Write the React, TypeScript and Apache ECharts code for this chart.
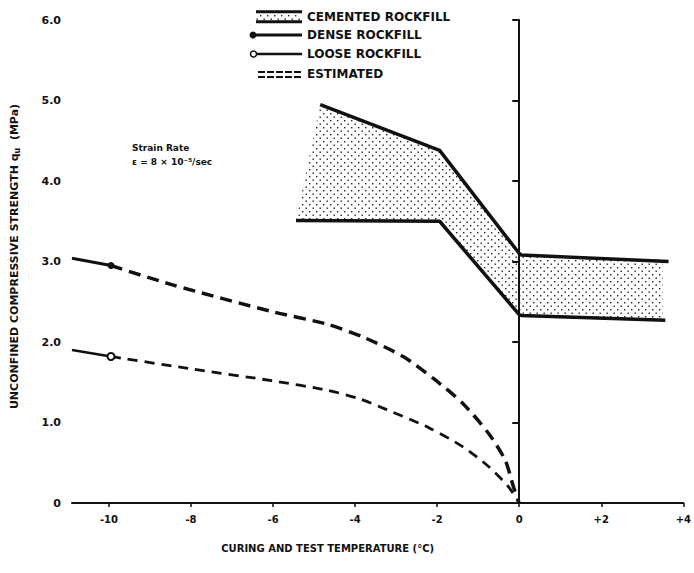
import React, { useEffect, useRef } from "react";
import * as echarts from "echarts";

// ---- data ----
const xTicks = [-10, -8, -6, -4, -2, 0, 2, 4];

// cemented rockfill band boundaries
const cementedUpper: [number, number][] = [
  [-4.85, 4.95], [-1.94, 4.38], [0, 3.1], [0.05, 3.08], [3.64, 3.0],
];
const cementedLower: [number, number][] = [
  [-5.44, 3.51], [-1.94, 3.5], [0, 2.34], [0.05, 2.33], [3.56, 2.27],
];
const bandUpper: [number, number][] = [
  [-4.85, 4.95], [-1.94, 4.38], [0, 3.1], [3.5, 3.0],
];
const bandLower: [number, number][] = [
  [3.5, 2.28], [0, 2.34], [-1.94, 3.5], [-5.44, 3.51],
];

// dense rockfill: measured part and estimated part
const denseMeasured: [number, number][] = [[-10.9, 3.04], [-9.95, 2.95]];
const denseEstimated: [number, number][] = [
  [-9.95, 2.95], [-8.45, 2.71], [-6.04, 2.38], [-4.67, 2.22], [-3.8, 2.06],
  [-2.83, 1.82], [-2.1, 1.55], [-1.38, 1.24], [-0.74, 0.86], [-0.34, 0.53],
  [-0.14, 0.2], [0, 0],
];

// loose rockfill: measured part and estimated part
const looseMeasured: [number, number][] = [[-10.9, 1.9], [-9.95, 1.82]];
const looseEstimated: [number, number][] = [
  [-9.95, 1.82], [-8.05, 1.67], [-6.04, 1.52], [-4.67, 1.4], [-3.87, 1.29],
  [-3.23, 1.16], [-2.18, 0.93], [-1.38, 0.7], [-0.74, 0.45], [-0.26, 0.2],
  [0, 0],
];

const legendLabels = ["CEMENTED ROCKFILL", "DENSE ROCKFILL", "LOOSE ROCKFILL", "ESTIMATED"];
const xTitle = "CURING AND TEST TEMPERATURE (°C)";
const annotation = ["Strain Rate", "ε = 8 × 10⁻⁵/sec"];

const INK = "#111";
const FONT = "DejaVu Sans";

function makePattern(): any {
  const c = document.createElement("canvas");
  c.width = 7;
  c.height = 7;
  const ctx = c.getContext("2d")!;
  ctx.fillStyle = "#222";
  ctx.fillRect(1, 1, 1.4, 1.4);
  ctx.fillRect(4.5, 4.5, 1.4, 1.4);
  return { image: c, repeat: "repeat" };
}

export default function App() {
  const ref = useRef<HTMLDivElement>(null);

  useEffect(() => {
    if (!ref.current) return;
    const chart = echarts.init(ref.current, undefined, { renderer: "svg" });
    const pattern = makePattern();

    const g: any[] = [];
    const lx0 = 256;
    const lx1 = 302;
    const ys = [16.7, 35, 54, 74];
    g.push({
      type: "rect",
      shape: { x: lx0, y: 12, width: lx1 - lx0, height: 9 },
      style: { fill: pattern, stroke: "none" },
    });
    [11.7, 21.7].forEach((yy) =>
      g.push({
        type: "line",
        shape: { x1: lx0, y1: yy, x2: lx1, y2: yy },
        style: { stroke: INK, lineWidth: 3 },
      })
    );
    g.push({
      type: "line",
      shape: { x1: 253, y1: ys[1], x2: lx1, y2: ys[1] },
      style: { stroke: INK, lineWidth: 3 },
    });
    g.push({ type: "circle", shape: { cx: 253, cy: ys[1], r: 3.5 }, style: { fill: INK } });
    g.push({
      type: "line",
      shape: { x1: 257, y1: ys[2], x2: lx1, y2: ys[2] },
      style: { stroke: INK, lineWidth: 2.5 },
    });
    g.push({
      type: "circle",
      shape: { cx: 253.5, cy: ys[2], r: 3 },
      style: { fill: "#fff", stroke: INK, lineWidth: 1.5 },
    });
    [72, 77].forEach((yy) =>
      g.push({
        type: "line",
        shape: { x1: 258, y1: yy, x2: 303, y2: yy },
        style: { stroke: INK, lineWidth: 2, lineDash: [7, 2] },
      })
    );
    legendLabels.forEach((t, i) =>
      g.push({
        type: "text",
        x: 307,
        y: ys[i],
        style: { text: t, fill: INK, font: `bold 12px "${FONT}"`, textVerticalAlign: "middle" },
      })
    );
    annotation.forEach((t, i) =>
      g.push({
        type: "text",
        x: 132,
        y: [147.5, 162][i],
        style: { text: t, fill: INK, font: `bold 9px "${FONT}"`, textVerticalAlign: "middle" },
      })
    );

    const solid = { color: INK, width: 3.2, type: "solid" };

    chart.setOption({
      animation: false,
      backgroundColor: "#fff",
      grid: { left: 72, right: 5, top: 20, bottom: 70, containLabel: false },
      xAxis: {
        type: "value",
        min: -10.9,
        max: 4,
        name: xTitle,
        nameLocation: "middle",
        nameGap: 40,
        nameTextStyle: {
          color: INK,
          fontFamily: FONT,
          fontWeight: "bold",
          fontSize: 10,
          padding: [0, 100, 0, 0],
        },
        axisLine: { onZero: false, lineStyle: { color: INK, width: 2 } },
        axisTick: { show: true, length: 4, customValues: xTicks, lineStyle: { color: INK, width: 1.5 } },
        axisLabel: {
          customValues: xTicks,
          margin: 11,
          color: INK,
          fontFamily: FONT,
          fontWeight: "bold",
          fontSize: 10,
          formatter: (v: number) => (v > 0 ? "+" + v : String(v)),
        },
        splitLine: { show: false },
      },
      yAxis: {
        type: "value",
        min: 0,
        max: 6,
        interval: 1,
        name: "{a|UNCONFINED COMPRESSIVE STRENGTH q}{s|u}{a|  (MPa)}",
        nameLocation: "middle",
        nameGap: 51,
        nameTextStyle: {
          color: INK,
          padding: [0, 0, 0, 10],
          rich: {
            a: { fontFamily: FONT, fontWeight: "bold", fontSize: 11, color: INK },
            s: { fontFamily: FONT, fontWeight: "bold", fontSize: 8, color: INK, padding: [6, 0, 0, 0] },
          },
        },
        axisLine: { show: true, lineStyle: { color: INK, width: 2 } },
        axisTick: { show: true, length: 7, lineStyle: { color: INK, width: 2 } },
        axisLabel: {
          margin: 11,
          color: INK,
          fontFamily: FONT,
          fontWeight: "bold",
          fontSize: 11,
          formatter: (v: number) => (v === 0 ? "0" : v.toFixed(1)),
        },
        splitLine: { show: false },
      },
      graphic: g,
      series: [
        {
          type: "custom",
          silent: true,
          z: 1,
          data: [[0, 0]],
          renderItem: (_p: any, api: any) => {
            const pts = [...bandUpper, ...bandLower].map((p) => api.coord(p));
            return {
              type: "polygon",
              shape: { points: pts },
              style: { fill: pattern, stroke: "none" },
            };
          },
        },
        {
          type: "line",
          name: "cemented upper",
          data: cementedUpper,
          symbol: "none",
          lineStyle: { ...solid, width: 3.5 },
          z: 3,
          markLine: {
            silent: true,
            symbol: "none",
            label: { show: false },
            lineStyle: { color: INK, width: 1.5, type: "solid" },
            data: [{ xAxis: 0 }],
          },
        },
        {
          type: "line",
          name: "cemented lower",
          data: cementedLower,
          symbol: "none",
          lineStyle: { ...solid, width: 3.5 },
          z: 3,
        },
        {
          type: "line",
          name: "dense",
          data: [
            { value: denseMeasured[0], symbol: "none" },
            { value: denseMeasured[1], symbol: "circle", symbolSize: 7 },
          ],
          showSymbol: true,
          itemStyle: { color: INK },
          lineStyle: solid,
          z: 4,
        },
        {
          type: "line",
          name: "dense estimated",
          data: denseEstimated,
          symbol: "none",
          smooth: 0.25,
          lineStyle: { color: INK, width: 3.5, type: [12, 7] },
          z: 3,
        },
        {
          type: "line",
          name: "loose",
          data: [
            { value: looseMeasured[0], symbol: "none" },
            { value: looseMeasured[1], symbol: "emptyCircle", symbolSize: 7 },
          ],
          showSymbol: true,
          itemStyle: { color: INK, borderColor: INK, borderWidth: 1.5 },
          lineStyle: { color: INK, width: 2.5 },
          z: 4,
        },
        {
          type: "line",
          name: "loose estimated",
          data: looseEstimated,
          symbol: "none",
          smooth: 0.25,
          lineStyle: { color: INK, width: 2.8, type: [10, 7] },
          z: 3,
        },
      ],
    });

    return () => chart.dispose();
  }, []);

  return (
    <div
      ref={ref}
      style={{ position: "absolute", left: 0, top: 0, width: 694, height: 573, background: "#fff" }}
    />
  );
}
